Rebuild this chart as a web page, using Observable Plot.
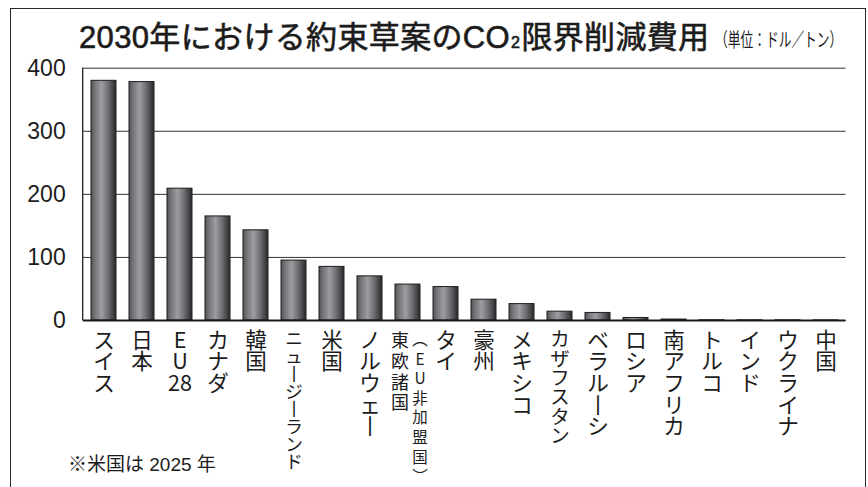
<!DOCTYPE html>
<html><head><meta charset="utf-8">
<script src="https://cdn.jsdelivr.net/npm/d3@7"></script>
<script src="https://cdn.jsdelivr.net/npm/@observablehq/plot@0.6"></script>
<style>
body{margin:0;background:#fff;width:868px;height:487px;overflow:hidden;position:relative;font-family:"Noto Sans CJK JP","Noto Sans",sans-serif;color:#1c1c1c}
#frame{position:absolute;left:10px;top:7.5px;width:856px;height:520px;border:1.6px solid #2a2a2a;box-sizing:border-box}
#title{position:absolute;left:79px;top:22px;font-family:"Liberation Sans","Noto Sans CJK JP",sans-serif;font-size:31px;letter-spacing:0.35px;line-height:1;font-weight:400;-webkit-text-stroke:0.6px #1c1c1c;white-space:nowrap}
#title .sub{font-size:0.52em;position:relative;top:0.02em;margin:0 1px}
#unit{position:absolute;left:715px;top:29px;font-size:19px;line-height:1;white-space:nowrap;transform:scaleX(0.67);transform-origin:left top}
#chart{position:absolute;left:0;top:50px}
#note{position:absolute;left:68px;top:455px;font-family:"Liberation Sans","Noto Sans CJK JP",sans-serif;font-size:19px;line-height:1;white-space:nowrap}
</style></head>
<body>
<div id="frame"></div>
<div id="title">2030年における約束草案のCO<span class="sub">2</span>限界削減費用</div>
<div id="unit">（単位：ドル／トン）</div>
<div id="chart"></div>
<div id="note">※米国は 2025 年</div>
<script>
const categories = ["スイス","日本","EU28","カナダ","韓国","ニュージーランド","米国","ノルウェー","東欧諸国(EU非加盟国)","タイ","豪州","メキシコ","カザフスタン","ベラルーシ","ロシア","南アフリカ","トルコ","インド","ウクライナ","中国"];
const values = [380, 378, 209, 165, 143, 95, 85, 70, 57, 53, 33, 26, 14, 12, 4, 1.5, 0.4, 0.3, 0.3, 0.2];
const yTicks = [0, 100, 200, 300, 400];

const data = categories.map((name, i) => ({name, value: values[i]}));

function vert(s) {
  const toks = s.match(/[0-9]+|./gu) || [];
  return toks.map(t => t === "ー" ? "丨" : t === "(" ? "︵" : t === ")" ? "︶" : t).join("\n");
}
const mainPart = s => s.split("(")[0];
const subPart = s => s.includes("(") ? "(" + s.split("(")[1] : "";

const tight = new Set(["ニュージーランド"]);
const semi = new Set(["カザフスタン"]);
const twoCol = d => d.name.includes("(");

function gradientDefs() {
  const defs = d3.create("svg:defs");
  const g = defs.append("linearGradient").attr("id", "barGrad").attr("x1", "0").attr("x2", "1").attr("y1", "0").attr("y2", "0");
  [[0, "#505154"], [0.12, "#6e6f73"], [0.42, "#9c9da2"], [0.7, "#6a6b6f"], [0.9, "#3e3f42"], [1, "#2a2a2c"]]
    .forEach(([o, c]) => g.append("stop").attr("offset", o).attr("stop-color", c));
  return defs.node();
}
function leftLine(index, scales, values, dims) {
  const x = dims.marginLeft;
  return d3.create("svg:line")
    .attr("x1", x).attr("x2", x)
    .attr("y1", scales.y(d3.max(yTicks))).attr("y2", scales.y(0))
    .attr("stroke", "#222").attr("stroke-width", 1.3).node();
}

const labelFont = "Noto Sans CJK JP";
const labelOpts = {x: "name", frameAnchor: "bottom", lineAnchor: "top", dy: 12, fill: "#1c1c1c"};
const chart = Plot.plot({
  width: 868, height: 437,
  marginTop: 17.7, marginLeft: 82.7, marginRight: 22.5, marginBottom: 167,
  style: {fontFamily: labelFont, color: "#1c1c1c", background: "transparent"},
  x: {domain: categories, paddingInner: 0.345, paddingOuter: 0.17, axis: null},
  y: {domain: [0, 400], axis: null},
  marks: [
    gradientDefs,
    Plot.gridY(yTicks, {stroke: "#333", strokeOpacity: 1, strokeWidth: 1}),
    Plot.axisY(yTicks, {label: null, tickSize: 0, tickPadding: 17.5, fontSize: 23, fontFamily: "Liberation Sans", fill: "#1c1c1c"}),
    Plot.barY(data, {x: "name", y: "value", fill: "url(#barGrad)", stroke: "#1e1e1e", strokeWidth: 1}),
    Plot.ruleY([0], {stroke: "#1a1a1a", strokeWidth: 2}),
    leftLine,
    Plot.text(data.filter(d => !tight.has(d.name) && !semi.has(d.name) && !twoCol(d)), {
      ...labelOpts, text: d => vert(d.name), fontSize: 21.6, lineHeight: 1
    }),
    Plot.text(data.filter(d => tight.has(d.name)), {
      ...labelOpts, text: d => vert(d.name), fontSize: 17.6, lineHeight: 1
    }),
    Plot.text(data.filter(d => semi.has(d.name)), {
      ...labelOpts, text: d => vert(d.name), fontSize: 19.4, lineHeight: 1
    }),
    Plot.text(data.filter(twoCol), {
      ...labelOpts, dx: -8, text: d => vert(mainPart(d.name)), fontSize: 18, lineHeight: 1.15
    }),
    Plot.text(data.filter(twoCol), {
      ...labelOpts, dy: 11, dx: 12, text: d => vert(subPart(d.name)), fontSize: 15.5, lineHeight: 1.26
    })
  ]
});
document.getElementById("chart").appendChild(chart);
</script>
</body></html>
